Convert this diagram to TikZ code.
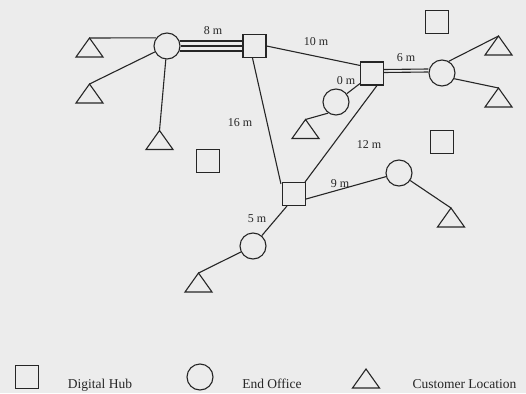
\documentclass[tikz,border=0pt]{standalone}
\usepackage{fontspec}
\setmainfont{Liberation Serif}
\usetikzlibrary{calc}
\definecolor{bg}{HTML}{ECECEC}
\definecolor{ink}{HTML}{262626}
\tikzset{
  hub/.style={draw=ink, rectangle, minimum size=23pt, inner sep=0pt},
  office/.style={draw=ink, circle, minimum size=26pt, inner sep=0pt},
  tri/.style={draw=ink},
  lbl/.style={font=\fontsize{12}{14}\selectfont, text=ink, inner sep=0pt, anchor=base},
  leg/.style={font=\fontsize{13.5}{15}\selectfont, text=ink, inner sep=0pt, anchor=base},
}
\newcommand{\custloc}[3]{%
  \coordinate (#1) at (#2,#3);
  \draw[tri] (#1) -- ++(-13.5,19) -- ++(27,0) -- cycle;}
\begin{document}
\begin{tikzpicture}[x=1pt,y=-1pt, line width=1.1pt, draw=ink]
\fill[bg] (0,0) rectangle (526,393);
\useasboundingbox (0,0) rectangle (526,393);
% hubs
\node[hub] (h1) at (254.5,46) {};
\node[hub] (h2) at (372,73.5) {};
\node[hub] (h3) at (294,194) {};
\node[hub] (s1) at (208,161) {};
\node[hub] (s2) at (437,22) {};
\node[hub] (s3) at (442,142) {};
% offices
\node[office] (c1) at (167,46) {};
\node[office] (c2) at (442,73) {};
\node[office] (c3) at (336,102) {};
\node[office] (c4) at (399,173) {};
\node[office] (c5) at (253,246) {};
% customers
\custloc{t1}{89.5}{38}
\custloc{t2}{89.5}{84}
\custloc{t3}{159.5}{130.5}
\custloc{t4}{498.5}{36}
\custloc{t5}{498.5}{88}
\custloc{t6}{305.5}{119.5}
\custloc{t7}{451}{208}
\custloc{t8}{198.5}{273}
% connectors
\draw (t1) -- (c1.143);
\draw (t2) -- (c1);
\draw (t3) -- (c1);
\draw ($(c1.east)+(-1,-5)$) -- ($(h1.west)+(0,-5)$);
\draw (c1.east) -- (h1.west);
\draw ($(c1.east)+(-1,5)$) -- ($(h1.west)+(0,5)$);
\draw (h1.east) -- ($(h2.north west)+(0,4)$);
\draw ($(h2.east)+(0,-4)$) -- ($(c2.west)+(0,-4)$);
\draw ($(h2.east)+(0,-1)$) -- ($(c2.west)+(0,-1)$);
\draw (c2.60) -- (t4);
\draw (c2.-25) -- (t5);
\draw ($(h2.south west)+(0,-2)$) -- (c3);
\draw (c3.235) -- (t6);
\draw ($(h2.south)+(5,0)$) -- ($(h3.north east)+(-1,0)$);
\draw ($(h1.south)+(-2,0)$) -- ($(h3.north west)+(-1,2)$);
\draw ($(h3.east)+(0,5)$) -- (c4);
\draw (c4) -- (t7);
\draw ($(h3.south west)+(5,0)$) -- (c5);
\draw (c5) -- (t8);
% labels
\node[lbl] (l8) at (213,35) {8 m};
\node[lbl] (l10) at (316,45.5) {10 m};
\node[lbl] (l16) at (240,126.5) {16 m};
\node[lbl] (l6) at (406,61.5) {6 m};
\node[lbl] (l0) at (346,84.5) {0 m};
\node[lbl] (l12) at (369,148.5) {12 m};
\node[lbl] (l9) at (340,187.5) {9 m};
\node[lbl] (l5) at (257,222.5) {5 m};
% legend
\node[hub] (lh) at (27,377) {};
\node[leg] (lht) at (100,388) {Digital Hub};
\node[office] (lo) at (200,377) {};
\node[leg] (lot) at (272,388) {End Office};
\custloc{lt}{366}{369}
\node[leg] (ltt) at (464.5,388) {Customer Location};
\end{tikzpicture}
\end{document}
